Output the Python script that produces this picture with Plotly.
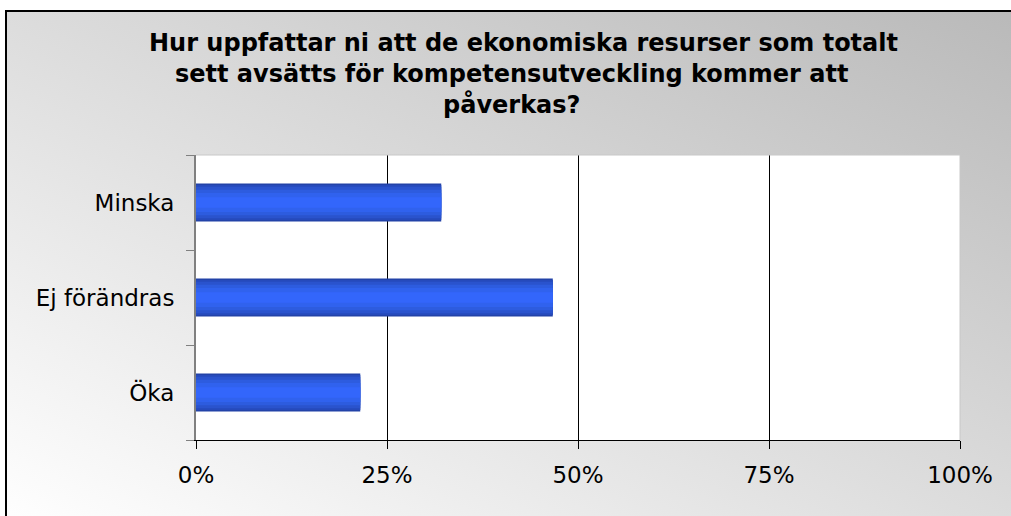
import base64
import plotly.graph_objects as go

categories = ["Öka", "Ej förändras", "Minska"]
values = [21.5, 46.7, 32.1]
tick_vals = [0, 25, 50, 75, 100]
tick_text = ["0%", "25%", "50%", "75%", "100%"]
title_lines = [
    "Hur uppfattar ni att de ekonomiska resurser som totalt",
    "sett avsätts för kompetensutveckling kommer att",
    "påverkas?",
]

W, H = 1011, 516
L, R, T, B = 196, 51, 155, 76
pw, ph = W - L - R, H - T - B

def px_x(p):
    return (p - L) / pw

def px_y(p):
    return (H - B - p) / ph

# layered bars to imitate the cylindrical gradient
layers = [
    (0.40, "#2242a8"),
    (0.37, "#264abb"),
    (0.33, "#2a53cd"),
    (0.27, "#2d5cdf"),
    (0.20, "#3062ee"),
    (0.11, "#3366fb"),
]

fig = go.Figure()
for w, c in layers:
    fig.add_trace(go.Bar(
        x=values, y=categories, orientation="h", width=w,
        marker=dict(color=c, line=dict(width=0)),
        hoverinfo="x+y", showlegend=False,
    ))

bx, by = 5, 10
svg = (f'<svg xmlns="http://www.w3.org/2000/svg" width="{W}" height="{H}" '
       f'viewBox="0 0 {W} {H}" preserveAspectRatio="none">'
       '<defs><linearGradient id="g" x1="0" y1="1" x2="1" y2="0">'
       '<stop offset="0" stop-color="#ffffff"/>'
       '<stop offset="1" stop-color="#b9b9b9"/>'
       '</linearGradient></defs>'
       f'<rect x="0" y="0" width="{W}" height="{H}" fill="#ffffff"/>'
       f'<rect x="{bx}" y="{by}" width="{W - bx + 10}" height="{H - by + 10}" fill="url(#g)"/>'
       f'<rect x="{L}" y="{T}" width="{pw}" height="{ph}" fill="#ffffff"/>'
       f'<line x1="{bx + 1}" y1="{by}" x2="{bx + 1}" y2="{H + 5}" stroke="#000" stroke-width="2"/>'
       f'<line x1="{bx}" y1="{by + 1}" x2="{W + 5}" y2="{by + 1}" stroke="#000" stroke-width="2"/>'
       '</svg>')
src = "data:image/svg+xml;base64," + base64.b64encode(svg.encode()).decode()

fig.add_layout_image(dict(
    source=src, xref="paper", yref="paper",
    x=-L / pw, y=(H - B) / ph, sizex=W / pw, sizey=H / ph,
    xanchor="left", yanchor="top", sizing="stretch", layer="below",
))

# plot-area top/right edges
fig.add_shape(type="line", xref="paper", yref="paper",
              x0=0, x1=1, y0=1, y1=1, line=dict(color="#c8c8c8", width=1))
fig.add_shape(type="line", xref="paper", yref="paper",
              x0=1, x1=1, y0=0, y1=1, line=dict(color="#c8c8c8", width=1))

# title, one line per annotation
line_x = [523.5, 511.5, 512]
line_y = [43, 74, 104]
for txt, lx, ly in zip(title_lines, line_x, line_y):
    fig.add_annotation(text=txt, xref="paper", yref="paper",
                       x=px_x(lx), y=px_y(ly), xanchor="center", yanchor="middle",
                       showarrow=False,
                       font=dict(family="DejaVu Sans, Verdana", size=24,
                                 color="#000000", weight="bold"))

fig.update_layout(
    width=W, height=H,
    margin=dict(l=L, r=R, t=T, b=B),
    paper_bgcolor="#ffffff", plot_bgcolor="rgba(0,0,0,0)",
    barmode="overlay",
    font=dict(family="DejaVu Sans, Verdana", size=23, color="#000000"),
    xaxis=dict(range=[0, 100], tickvals=tick_vals, ticktext=tick_text,
               showgrid=True, gridcolor="#000000", gridwidth=1,
               showline=True, linecolor="#000000", linewidth=1,
               ticks="outside", ticklen=8, tickcolor="#000000",
               zeroline=False, fixedrange=True, ticklabelstandoff=6),
    yaxis=dict(categoryorder="array", categoryarray=categories,
               range=[-0.5, 2.5], tickson="boundaries",
               showline=True, linecolor="#808080", linewidth=2,
               ticks="outside", ticklen=8, tickcolor="#808080",
               showgrid=False, zeroline=False, fixedrange=True,
               ticklabelstandoff=15),
)

fig.write_html("out.html", config={"displayModeBar": False},
               post_script="document.body.style.margin='0';")
